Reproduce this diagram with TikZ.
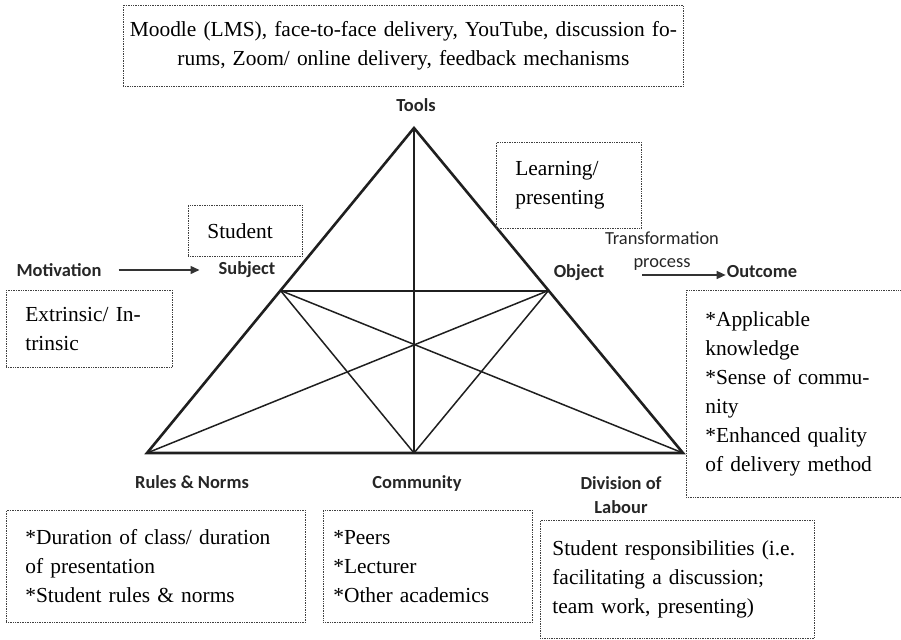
\documentclass[tikz,border=0pt]{standalone}
\usepackage{fontspec}
\setmainfont{Liberation Serif}
\newfontfamily\labelfont{Carlito}
\usetikzlibrary{arrows.meta,calc}

\begin{document}
\begin{tikzpicture}[x=1bp,y=-1bp,
    note/.style={draw=black!75,densely dotted,line width=0.7bp,inner xsep=19bp,
      align=left,anchor=north west,font=\fontsize{21.5}{29}\selectfont},
    lbl/.style={font=\labelfont\bfseries\fontsize{18.5}{24}\selectfont,text=black!85,inner sep=1bp},
    arr/.style={-{Triangle[length=9bp,width=8bp]},line width=1.4bp,draw=black!80}]
  \useasboundingbox (0,0) rectangle (901,640);
  \colorlet{ink}{black!88}
  \def\thick{2.6bp}
  \def\thin{1.5bp}

  % corners of the activity triangle
  \coordinate (tools) at (414,128);
  \coordinate (rules) at (147,453);
  \coordinate (comm) at (414,453);
  \coordinate (div) at (683,453);
  \coordinate (subj) at ($(tools)!0.5!(rules)$);
  \coordinate (obj) at ($(tools)!0.5!(div)$);

  % inner lines, then the frame
  \foreach \s/\t in {subj/comm,obj/comm,subj/div,obj/rules}
    \draw[ink,line width=\thin] (\s) -- (\t);
  \draw[ink,line width=2bp] (subj) -- (obj);
  \draw[ink,line width=\thick] (tools) -- (comm);
  \draw[ink,line width=\thick] (tools) -- (rules) -- (div) -- cycle;

  % corner labels
  \node[lbl] (toolsl) at (416,105) {Tools};
  \node[lbl] (subjl) at (247,270) {Subject};
  \node[lbl] (objl) at (579,273) {Object};
  \node[lbl] (motiv) at (59,270) {Motivation};
  \node[lbl] (outc) at (762,272) {Outcome};
  \node[lbl] (rulesl) at (192,482) {Rules \& Norms};
  \node[lbl] (comml) at (417,483) {Community};
  \node[lbl,align=center] (divl) at (621,495) {Division of\\Labour};
  \node[font=\labelfont\fontsize{18.5}{23}\selectfont,align=center,text=black!85] (trans) at (662,251) {Transformation\\process};

  % arrows
  \coordinate (tstart) at (642,275);
  \draw[arr,shorten <=16bp,shorten >=18bp] (motiv) -- (subjl);
  \draw[arr] (tstart) -- (tstart -| outc.west);

  % notes
  \node[note,align=center,inner xsep=3bp,minimum width=560bp,minimum height=81bp,text width=554bp] (toolsbox) at (123,5)
    {Moodle (LMS), face-to-face delivery, YouTube, discussion fo-\\rums, Zoom/ online delivery, feedback mechanisms};
  \node[note,minimum width=114bp,minimum height=51bp,text width=76bp] (subjbox) at (188,205) {Student};
  \node[note,minimum width=145bp,minimum height=86bp,text width=107bp] (objbox) at (496,142) {Learning/\\presenting};
  \node[note,minimum width=166bp,minimum height=77bp,text width=128bp] (motivbox) at (6,290) {Extrinsic/ In-\\trinsic};
  \node[note,minimum width=216bp,minimum height=207bp,text width=180bp] (outcbox) at (686,290)
    {*Applicable\\knowledge\\{*}Sense of commu-\\nity\\{*}Enhanced quality\\of delivery method};
  \node[note,minimum width=299bp,minimum height=112bp,text width=261bp] (rulesbox) at (6,510)
    {*Duration of class/ duration\\of presentation\\{*}Student rules \& norms};
  \node[note,inner xsep=10bp,minimum width=209bp,minimum height=112bp,text width=189bp] (commbox) at (323,510)
    {*Peers\\{*}Lecturer\\{*}Other academics};
  \node[note,inner xsep=12bp,minimum width=274bp,minimum height=118bp,text width=250bp] (divbox) at (540,520)
    {Student responsibilities (i.e.\\facilitating a discussion;\\team work, presenting)};
\end{tikzpicture}
\end{document}
